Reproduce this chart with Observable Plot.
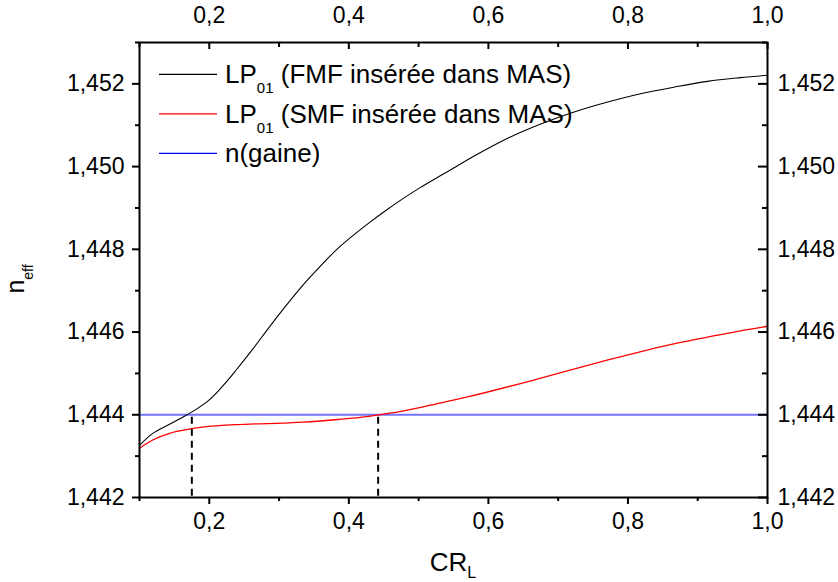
<!DOCTYPE html>
<html>
<head>
<meta charset="utf-8">
<script src="https://cdn.jsdelivr.net/npm/d3@7"></script>
<script src="https://cdn.jsdelivr.net/npm/@observablehq/plot@0.6"></script>
<style>
  html, body { margin: 0; padding: 0; background: #fff; }
  #chart { width: 838px; height: 582px; }
</style>
</head>
<body>
<div id="chart"></div>
<script>
// ---- Data ----
const fmfX = [0.1, 0.119, 0.143, 0.167, 0.181, 0.2, 0.219, 0.238, 0.262, 0.286, 0.31, 0.334, 0.358, 0.381, 0.405, 0.429, 0.453, 0.477, 0.501, 0.525, 0.548, 0.579, 0.627, 0.675, 0.723, 0.771, 0.818, 0.866, 0.914, 0.961, 1.0];
const fmfY = [1.44326, 1.44355, 1.44377, 1.44399, 1.44413, 1.44436, 1.44469, 1.44507, 1.44558, 1.44612, 1.44664, 1.44713, 1.44757, 1.44797, 1.44832, 1.44864, 1.44894, 1.44922, 1.44948, 1.44972, 1.44994, 1.45025, 1.45068, 1.45103, 1.45132, 1.45156, 1.45176, 1.45192, 1.45206, 1.45215, 1.45221];

const smfX = [0.1, 0.119, 0.143, 0.167, 0.19, 0.238, 0.305, 0.334, 0.381, 0.429, 0.443, 0.477, 0.525, 0.57, 0.665, 0.761, 0.856, 0.952, 1.0];
const smfY = [1.44319, 1.44339, 1.44355, 1.44364, 1.44370, 1.44376, 1.44380, 1.44382, 1.44388, 1.44396, 1.444, 1.44409, 1.44426, 1.44443, 1.44484, 1.44528, 1.44568, 1.446, 1.44614];

const nGaine = 1.444;
const xRange = [0.1, 1.0];
const yRange = [1.442, 1.453];

const cutoffX = [0.175, 0.442];
const cutoffTop = 1.44394;

const xMajor = [0.2, 0.4, 0.6, 0.8, 1.0];
const xMinor = [0.1, 0.3, 0.5, 0.7, 0.9];
const yMajor = [1.442, 1.444, 1.446, 1.448, 1.45, 1.452];
const yMinor = [1.443, 1.445, 1.447, 1.449, 1.451, 1.453];

const legendLabels = [
  {main: "LP", sub: "01", rest: " (FMF insérée dans MAS)", color: "#000000"},
  {main: "LP", sub: "01", rest: " (SMF insérée dans MAS)", color: "#ff0000"},
  {main: "n(gaine)", sub: "", rest: "", color: "#0000ee"}
];
const xTitle = {main: "CR", sub: "L"};
const yTitle = {main: "n", sub: "eff"};

// ---- Tables for Plot ----
const fmf = fmfX.map((x, i) => ({x, y: fmfY[i]}));
const smf = smfX.map((x, i) => ({x, y: smfY[i]}));
const gaine = [{y: nGaine, x1: xRange[0], x2: xRange[1]}];
const cutoffs = cutoffX.map(x => ({x, y1: cutoffTop, y2: yRange[0]}));

const fx = d => d.toFixed(1).replace(".", ",");
const fy = d => d.toFixed(3).replace(".", ",");
const blank = () => "";
const FONT = "'Liberation Sans', Arial, Helvetica, sans-serif";
const TICK_FS = 23;

// tick rules sitting on a frame edge; length given by a negative inset
const xTicks = (vals, edge, len) => Plot.ruleX(vals, {x: d => d, y1: () => edge, y2: () => edge, insetTop: 0, insetBottom: -len, stroke: "#000", strokeWidth: 2});
const yTicks = (vals, edge, len) => Plot.ruleY(vals, {y: d => d, x1: () => edge, x2: () => edge, insetLeft: -len, insetRight: 0, stroke: "#000", strokeWidth: 2});

const chart = Plot.plot({
  width: 838,
  height: 582,
  marginLeft: 139,
  marginRight: 71,
  marginTop: 42,
  marginBottom: 85,
  x: {domain: xRange},
  y: {domain: yRange},
  style: {fontFamily: FONT, background: "white", color: "black"},
  marks: [
    Plot.ruleY(gaine, {y: "y", x1: "x1", x2: "x2", stroke: "#7373ff", strokeWidth: 2}),
    Plot.line(fmf, {x: "x", y: "y", stroke: "black", strokeWidth: 1.1, curve: "catmull-rom"}),
    Plot.line(smf, {x: "x", y: "y", stroke: "#ff0000", strokeWidth: 1.3, curve: "catmull-rom"}),
    Plot.ruleX(cutoffs, {x: "x", y1: "y1", y2: "y2", stroke: "black", strokeWidth: 2, strokeDasharray: "7,5"}),
    Plot.frame({stroke: "black", strokeWidth: 2}),
    // bottom (outward) and top (inward) ticks
    xTicks(xMajor, yRange[0], 7), xTicks(xMinor, yRange[0], 4),
    xTicks(xMajor, yRange[1], 7), xTicks(xMinor, yRange[1], 5),
    // left (outward) and right (inward) ticks
    yTicks(yMajor, xRange[0], 7), yTicks(yMinor, xRange[0], 4),
    yTicks(yMajor, xRange[1], 9), yTicks(yMinor, xRange[1], 5),
    // tick labels
    Plot.axisY({anchor: "left", ticks: yMajor, tickSize: 0, tickPadding: 15, tickFormat: fy, fontSize: TICK_FS, label: null}),
    Plot.axisX({anchor: "bottom", ticks: xMajor, tickSize: 0, tickPadding: 15, tickFormat: fx, fontSize: TICK_FS, label: null}),
    Plot.axisX({anchor: "top", ticks: xMajor, tickSize: 0, tickPadding: 20, tickFormat: fx, fontSize: TICK_FS, label: null}),
    Plot.axisY({anchor: "right", ticks: yMajor, tickSize: 0, tickPadding: 10, tickFormat: fy, fontSize: TICK_FS, label: null})
  ]
});

document.getElementById("chart").appendChild(chart);

// ---- Titles and legend with subscripts ----
const svg = d3.select(chart);
const xs = chart.scale("x");
const xMid = (xs.apply(xRange[0]) + xs.apply(xRange[1])) / 2;

const tX = svg.append("text")
  .attr("x", xMid).attr("y", 571)
  .attr("text-anchor", "middle")
  .style("font-family", FONT).style("font-size", "26px").attr("fill", "black");
tX.append("tspan").text(xTitle.main);
tX.append("tspan").attr("dy", 7).style("font-size", "16px").text(xTitle.sub);

const tY = svg.append("text")
  .attr("transform", "translate(24,279) rotate(-90)")
  .attr("text-anchor", "middle")
  .style("font-family", FONT).style("font-size", "25px").attr("fill", "black");
tY.append("tspan").text(yTitle.main);
tY.append("tspan").attr("dy", 9).style("font-size", "14px").text(yTitle.sub);

const lg = svg.append("g").style("font-family", FONT).attr("text-anchor", "start");
const rowY = [74.3, 113.8, 153.3];
legendLabels.forEach((d, i) => {
  lg.append("line")
    .attr("x1", 159).attr("x2", 217)
    .attr("y1", rowY[i]).attr("y2", rowY[i])
    .attr("stroke", d.color).attr("stroke-width", 1.3);
  const t = lg.append("text")
    .attr("x", 225).attr("y", rowY[i] + 9)
    .attr("text-anchor", "start")
    .style("font-size", "26px").attr("fill", "black");
  t.append("tspan").text(d.main);
  if (d.sub) {
    t.append("tspan").attr("dy", 10).style("font-size", "15px").text(d.sub);
    t.append("tspan").attr("dy", -10).text(d.rest);
  }
});
</script>
</body>
</html>
